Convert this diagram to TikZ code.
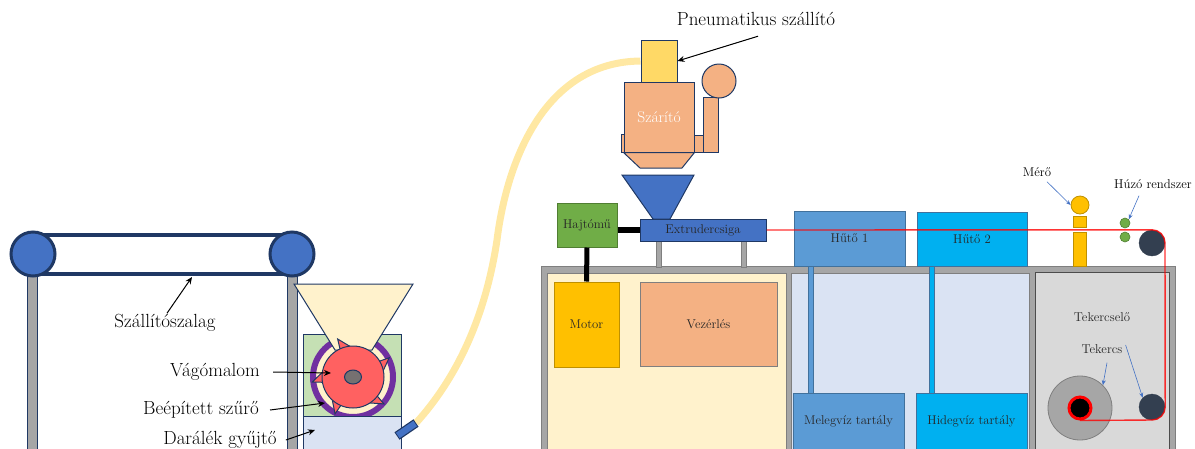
\documentclass[tikz,border=0pt]{standalone}
\usetikzlibrary{calc,arrows.meta}

\definecolor{navy}{HTML}{1F3864}
\definecolor{blueA}{HTML}{4472C4}
\definecolor{blueL}{HTML}{DAE3F3}
\definecolor{blueM}{HTML}{5B9BD5}
\definecolor{blueMd}{HTML}{41719C}
\definecolor{cyanT}{HTML}{00B0F0}
\definecolor{cream}{HTML}{FFF2CC}
\definecolor{greenL}{HTML}{C5E0B4}
\definecolor{greenD}{HTML}{70AD47}
\definecolor{greenB}{HTML}{507E32}
\definecolor{purpleR}{HTML}{7030A0}
\definecolor{redC}{HTML}{FF6161}
\definecolor{hubgray}{HTML}{767171}
\definecolor{hose}{HTML}{FFE699}
\definecolor{yellowL}{HTML}{FFD966}
\definecolor{orangeL}{HTML}{F4B183}
\definecolor{gold}{HTML}{FFC000}
\definecolor{goldD}{HTML}{BF9000}
\definecolor{grayM}{HTML}{A6A6A6}
\definecolor{grayL}{HTML}{D9D9D9}
\definecolor{grayD}{HTML}{7F7F7F}
\definecolor{darkroll}{HTML}{333F50}
\definecolor{txt}{HTML}{262626}

\begin{document}
\begin{tikzpicture}[x=1pt,y=-1pt,
        outl/.style={draw=navy, line width=1pt},
        box/.style={rectangle, draw=navy, line width=1pt, inner sep=0pt,
        font=\fontsize{12.7}{14}\selectfont, text=txt},
        roll/.style={circle, inner sep=0pt, minimum size=#1},
        lbl/.style={font=\fontsize{19}{22}\selectfont, inner sep=1pt},
        small/.style={font=\fontsize{12.8}{14}\selectfont, inner sep=1pt},
        ptr/.style={-{Stealth[length=7pt,width=6pt]}, line width=1pt},
        bptr/.style={-{Stealth[length=5pt,width=4pt]}, line width=0.6pt, draw=blueA},
        leg/.style={fill=grayM, draw=navy, line width=0.8pt},
        stand/.style={fill=grayM, draw=grayD, line width=0.6pt},
        product/.style={draw=red, line width=1.4pt, opacity=0.8},
        ]
        \useasboundingbox (0,0) rectangle (1195,448);

        % conveyor belt
        \draw[leg] (27,274) rectangle (37,470);
        \draw[leg] (287,274) rectangle (297,470);
        \draw[navy, line width=4pt, fill=white] (33,235) rectangle (292,274);
        \node (rollA) [roll=44, fill=blueA, draw=navy, line width=3pt] at (33,254) {};
        \node (rollB) [roll=44, fill=blueA, draw=navy, line width=3pt] at (292,254) {};

        % cutting mill
        \node (mill) [box, fill=greenL, minimum width=98, minimum height=82] at (352,375) {};
        \draw[purpleR, line width=6pt, fill=cream] (353,377) circle[radius=40];
        \draw[outl, fill=cream] (294,284) -- (413,284) -- (372,350) -- (335,350) -- cycle;
        \coordinate (cc) at (353,377);
        \foreach \a in {112,28,187,-41,-116}
            \draw[outl, fill=redC] ($(cc)+(-\a+35:26)$) -- ($(cc)+(-\a:41)$) -- ($(cc)+(-\a-5:26)$) -- cycle;
        \node (cut) [roll=62, fill=redC, draw=navy, line width=1pt] at (cc) {};
        \draw[outl, fill=hubgray] (cut.center) ellipse[x radius=8.5, y radius=7];
        \node (coll) [box, fill=blueL, minimum width=98, minimum height=50] at (352,441) {};

        % hose to the loader
        \node (load) [box, fill=yellowL, minimum width=36, minimum height=42] at (659,61) {};
        \coordinate (outA) at (397,436);
        \coordinate (outB) at (416,423);
        \draw[hose, line width=7pt, opacity=0.9] (outB) .. controls (455,380) and (485,320) .. (497,240)
            .. controls (507,160) and (545,62) .. (load.west);
        \draw[navy, line width=9pt] (outA) -- (outB);
        \draw[blueA, line width=6.5pt, shorten <=1pt, shorten >=1pt] (outA) -- (outB);

        \node (millL) [lbl] at (215,372) {Vágómalom};
        \node (filtL) [lbl] at (201,410) {Beépített szűrő};
        \node (collL) [lbl] at (220,440) {Darálék gyűjtő};
        \node (beltL) [lbl] at (165,323) {Szállítószalag};
        \coordinate (millP) at (331,373);
        \coordinate (filtP) at (325,403);
        \coordinate (collP) at (315,430);
        \coordinate (beltP) at (192,277);
        \draw[ptr] ([xshift=12pt]millL.east) -- (millP);
        \draw[ptr] ([xshift=10pt]filtL.east) -- (filtP);
        \draw[ptr] ([xshift=8pt]collL.east) -- (collP);
        \draw[ptr] ([xshift=2pt]beltL.north) -- (beltP);

        % dryer
        \draw[outl, fill=orangeL] (621,134) rectangle (625,152);
        \node (dry) [box, fill=orangeL, minimum width=70, minimum height=70, text=white,
            font=\fontsize{15.5}{17}\selectfont] at (659,117) {Szárító};
        \draw[outl, fill=orangeL] (dry.south west) -- (dry.south east) -- (682,168) -- (640,168) -- cycle;
        \draw[outl, fill=orangeL] (694,135) rectangle (703,152);
        \draw[outl, fill=orangeL] (703,97) rectangle (718,152);
        \node (fan) [roll=34, fill=orangeL, draw=navy, line width=1pt] at (719,81) {};
        \draw[outl, fill=blueA] (622,175) -- (694,175) -- (670,219) -- (653,219) -- cycle;

        \node (loadL) [font=\fontsize{19}{22}\selectfont] at (756,19) {Pneumatikus szállító};
        \draw[ptr] ([xshift=2pt,yshift=-7pt]loadL.south) -- (load.east);

        % cabinet
        \draw[fill=grayM, draw=grayD, line width=1pt] (541,266) rectangle (1175,470);
        \draw[fill=cream, draw=grayD, line width=0.8pt] (547,273) rectangle (786,470);
        \draw[fill=blueL, draw=grayD, line width=0.8pt] (791,273) rectangle (1029,470);
        \draw[fill=grayL, draw=black!70, line width=1pt] (1035,272) rectangle (1169,470);

        \draw[stand] (656,241) rectangle (661,267);
        \draw[stand] (741,241) rectangle (746,267);

        \node (extr) [box, fill=blueA, minimum width=126, minimum height=22] at (703,230) {Extrudercsiga};
        \node (drive) [box, fill=greenD, draw=greenB, minimum width=60, minimum height=44] at (587,225) {Hajtómű};
        \node (motor) [box, fill=gold, draw=goldD, minimum width=65, minimum height=85] at (586.5,324.5) {Motor};
        \node (ctrl) [box, fill=orangeL, draw=grayD, minimum width=137, minimum height=84] at (708.5,324) {Vezérlés};
        \draw[line width=6pt] (extr.west -| drive.east) -- (extr.west);
        \draw[line width=5pt] (drive.south) -- (motor.north);

        % cooling
        \node (cool1) [box, fill=blueM, draw=blueMd, minimum width=111, minimum height=55] at (849.5,238.5) {Hűtő 1};
        \node (cool2) [box, fill=cyanT, draw=blueMd, minimum width=110, minimum height=54] at (972,239) {Hűtő 2};
        \node (tank1) [box, fill=blueM, draw=blueMd, minimum width=111, minimum height=56] at (848.5,421) {Melegvíz tartály};
        \node (tank2) [box, fill=cyanT, draw=blueMd, minimum width=111, minimum height=56] at (971.5,421) {Hidegvíz tartály};
        \draw[blueMd, line width=6pt] ([xshift=-39pt]cool1.south) -- ([xshift=-38pt]tank1.north);
        \draw[blueM, line width=4pt] ([xshift=-39pt]cool1.south) -- ([xshift=-38pt]tank1.north);
        \draw[blueMd, line width=6pt] ([xshift=-40.5pt]cool2.south) -- ([xshift=-40pt]tank2.north);
        \draw[cyanT, line width=4pt] ([xshift=-40.5pt]cool2.south) -- ([xshift=-40pt]tank2.north);

        % gauge, puller, winder
        \draw[fill=gold, draw=goldD, line width=0.8pt] (1073,232) rectangle (1086,266);
        \draw[fill=gold, draw=goldD, line width=0.8pt] (1073,216) rectangle (1086,227);
        \node (gauge) [roll=18, fill=gold, draw=goldD, line width=0.8pt] at (1080,205) {};
        \node (pullA) [roll=10, fill=greenD, draw=greenB, line width=0.6pt] at (1125,223) {};
        \node (pullB) [roll=10, fill=greenD, draw=greenB, line width=0.6pt] at (1125,237) {};
        \node (rtop) [roll=26, fill=darkroll, draw=darkroll] at (1152,243) {};
        \node (rbot) [roll=26, fill=darkroll, draw=darkroll] at (1152,407) {};
        \node (coil) [roll=64, fill=grayM, draw=grayD, line width=0.8pt] at (1080,408) {};
        \node (core) [roll=22, fill=black, draw=red, line width=3pt] at (coil.center) {};

        \draw[product] (extr.east) -- (rtop.north) arc[start angle=270, end angle=360, radius=13]
            -- (rbot.east) arc[start angle=0, end angle=90, radius=13] -- (core.south);

        \node (gaugeL) [small] at (1037,172) {Mérő};
        \node (pullL) [small] at (1153,184) {Húzó rendszer};
        \node (windL) [small, text=txt] at (1102,317) {Tekercselő};
        \node (coilL) [small, text=txt] at (1102,349) {Tekercs};
        \draw[bptr] ([xshift=10pt,yshift=-4pt]gaugeL.south) -- (gauge.west);
        \draw[bptr] ([xshift=-14pt,yshift=-6pt]pullL.south) -- (pullA.north east);
        \draw[bptr] ([xshift=5pt,yshift=-8pt]coilL.south) -- (coil.north east);
        \draw[bptr] ([xshift=2pt,yshift=4pt]coilL.east) -- (rbot.north west);
\end{tikzpicture}
\end{document}
